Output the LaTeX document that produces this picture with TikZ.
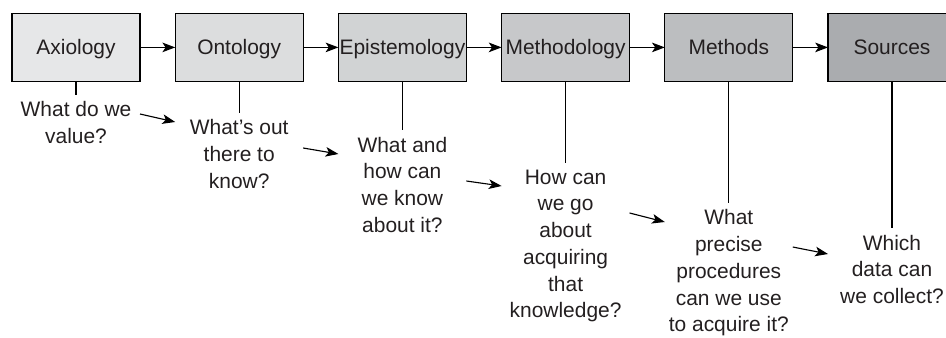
\documentclass[tikz,border=0pt]{standalone}
\usepackage{fontspec}
\setmainfont{Liberation Sans}
\usepackage{tikz}
\usetikzlibrary{arrows.meta, positioning}
\definecolor{inkgray}{RGB}{35, 31, 32}
\definecolor{axfill}{RGB}{230, 231, 232}
\definecolor{onfill}{RGB}{220, 221, 222}
\definecolor{epfill}{RGB}{209, 211, 212}
\definecolor{mgfill}{RGB}{199, 200, 202}
\definecolor{mdfill}{RGB}{188, 190, 192}
\definecolor{sofill}{RGB}{170, 172, 175}
\tikzset{
  stage/.style  = {rectangle, draw=black, line width=0.8pt, minimum width=3.2cm, minimum height=1.7cm,
                   outer sep=0pt, inner sep=0pt, text=inkgray, text height=10.7pt, text depth=0pt,
                   font=\fontsize{14.9pt}{19pt}\selectfont},
  quest/.style  = {align=center, inner sep=0pt, outer sep=0pt, text=inkgray,
                   font=\fontsize{14.9pt}{19pt}\selectfont},
  flow/.style   = {-{Stealth[length=0.32cm, width=0.24cm, inset=0.08cm]}, line width=0.8pt, black},
  tie/.style    = {line width=0.8pt, black, shorten >=0.175cm},
}

\begin{document}
\begin{tikzpicture}
  \useasboundingbox (0,0) rectangle (23.65,-8.425);

  % stages
  \node[stage, fill=axfill] (ax) at (1.9,-1.185) {Axiology};
  \node[stage, fill=onfill, right=0.88cm of ax] (on) {Ontology};
  \node[stage, fill=epfill, right=0.88cm of on] (ep) {Epistemology};
  \node[stage, fill=mgfill, right=0.88cm of ep] (mg) {Methodology};
  \node[stage, fill=mdfill, right=0.88cm of mg] (md) {Methods};
  \node[stage, fill=sofill, right=0.88cm of md] (so) {Sources};

  \draw[flow] (ax) -- (on);
  \draw[flow] (on) -- (ep);
  \draw[flow] (ep) -- (mg);
  \draw[flow] (mg) -- (md);
  \draw[flow] (md) -- (so);

  % questions
  \node[quest, below=0.51cm of ax] (qax) {What do we\\value?};
  \node[quest, below=0.96cm of on] (qon) {What's out\\there to\\know?};
  \node[quest, below=1.39cm of ep] (qep) {What and\\how can\\we know\\about it?};
  \node[quest, below=2.21cm of mg] (qmg) {How can\\we go\\about\\acquiring\\that\\knowledge?};
  \node[quest, below=3.21cm of md] (qmd) {What\\precise\\procedures\\can we use\\to acquire it?};
  \node[quest, below=3.84cm of so] (qso) {Which\\data can\\we collect?};

  \draw[tie] (ax) -- (qax);
  \draw[tie] (on) -- (qon);
  \draw[tie] (ep) -- (qep);
  \draw[tie] (mg) -- (qmg);
  \draw[tie] (md) -- (qmd);
  \draw[tie] (so) -- (qso);

  \draw[flow] (ax.east |- 0,-2.85)  -- (on.west |- 0,-3.05);
  \draw[flow] (on.east |- 0,-3.70)  -- (ep.west |- 0,-3.85);
  \draw[flow] (ep.east |- 0,-4.525) -- (mg.west |- 0,-4.65);
  \draw[flow] (mg.east |- 0,-5.325) -- (md.west |- 0,-5.55);
  \draw[flow] (md.east |- 0,-6.175) -- (so.west |- 0,-6.35);
\end{tikzpicture}
\end{document}
